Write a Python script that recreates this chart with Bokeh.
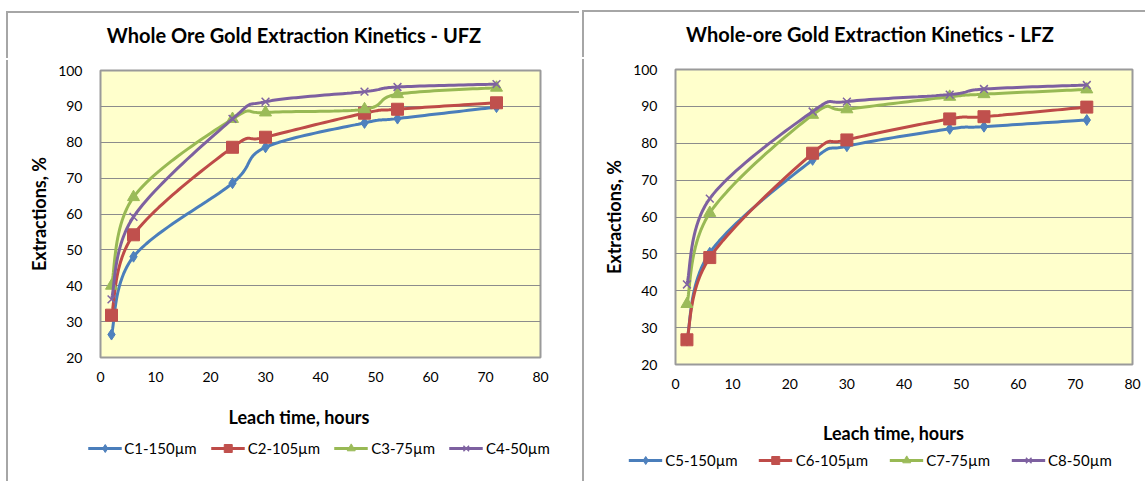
from bokeh.plotting import figure
from bokeh.models import Legend, LegendItem, Range1d, FixedTicker, Spacer, Label
from bokeh.layouts import row, column
from bokeh.embed import file_html
from bokeh.resources import INLINE

# ---------------- data ----------------
hours = [2, 6, 24, 30, 48, 54, 72]

ufz_names = ["C1-150µm", "C2-105µm", "C3-75µm", "C4-50µm"]
c1 = [26.4, 48.1, 68.6, 78.6, 85.4, 86.6, 89.8]
c2 = [31.8, 54.2, 78.6, 81.4, 88.1, 89.2, 91.0]
c3 = [40.0, 64.7, 86.5, 88.3, 89.2, 93.4, 95.2]
c4 = [36.2, 59.2, 86.5, 91.3, 94.1, 95.4, 96.2]

lfz_names = ["C5-150µm", "C6-105µm", "C7-75µm", "C8-50µm"]
c5 = [26.5, 50.3, 75.5, 79.2, 83.9, 84.5, 86.3]
c6 = [26.7, 49.0, 77.3, 80.9, 86.6, 87.2, 89.8]
c7 = [36.4, 61.1, 87.7, 89.2, 92.6, 93.3, 94.6]
c8 = [41.7, 65.0, 88.6, 91.3, 93.2, 94.7, 95.8]

x_ticks = [0, 10, 20, 30, 40, 50, 60, 70, 80]
y_ticks = [20, 30, 40, 50, 60, 70, 80, 90, 100]

titles = ["Whole Ore Gold Extraction Kinetics - UFZ",
          "Whole-ore Gold Extraction Kinetics - LFZ"]
x_title = "Leach time, hours"
y_title = "Extractions, %"

line_colors = ["#4A7EBB", "#BE4B48", "#98B954", "#7D60A0"]
fill_colors = ["#4F81BD", "#C0504D", "#9BBB59", "#8064A2"]
markers = ["diamond", "square", "triangle", "x"]
msizes = [11, 12, 12, 11]

FONT = "Lato"
SHADOW = "#A6A6A6"


def smooth(xs, ys, n=24):
    """Catmull-Rom style Bezier smoothing (like spreadsheet 'smoothed line')."""
    pts = list(zip(xs, ys))
    ox, oy = [], []
    for i in range(len(pts) - 1):
        p0 = pts[i - 1] if i > 0 else pts[i]
        p1 = pts[i]
        p2 = pts[i + 1]
        p3 = pts[i + 2] if i + 2 < len(pts) else pts[i + 1]
        c1x = p1[0] + (p2[0] - p0[0]) / 6.0
        c1y = p1[1] + (p2[1] - p0[1]) / 6.0
        c2x = p2[0] - (p3[0] - p1[0]) / 6.0
        c2y = p2[1] - (p3[1] - p1[1]) / 6.0
        for k in range(n + (1 if i == len(pts) - 2 else 0)):
            t = k / n
            a = (1 - t) ** 3
            b = 3 * (1 - t) ** 2 * t
            c = 3 * (1 - t) * t ** 2
            d = t ** 3
            ox.append(a * p1[0] + b * c1x + c * c2x + d * p2[0])
            oy.append(a * p1[1] + b * c1y + c * c2y + d * p2[1])
    return ox, oy


def add_series(p, i, xs, ys):
    sx, sy = smooth(xs, ys)
    ln = p.line(sx, sy, line_color=line_colors[i], line_width=3)
    if markers[i] == "x":
        sc = p.scatter(xs, ys, marker="x", size=msizes[i],
                       line_color=fill_colors[i], line_width=1.5)
    else:
        sc = p.scatter(xs, ys, marker=markers[i], size=msizes[i],
                       fill_color=fill_colors[i], line_color=fill_colors[i])
    return ln, sc


def blank(width, height, series):
    # the series are drawn in an empty view (nothing of them is visible)
    q = figure(width=width, height=height, x_range=Range1d(-1, 0), y_range=Range1d(-1, 0),
               output_backend="svg", toolbar_location=None, min_border=0,
               x_axis_location=None, y_axis_location=None)
    q.outline_line_color = None
    q.background_fill_color = "white"
    q.border_fill_color = "white"
    q.xgrid.visible = False
    q.ygrid.visible = False
    rs = [add_series(q, i, hours, ys) for i, ys in enumerate(series)]
    return q, rs


def header(text, series, width, height, tx, ty):
    q, _ = blank(width, height, series)
    q.add_layout(Label(x=tx, y=ty, x_units="screen", y_units="screen", text=text,
                       text_align="center", text_baseline="middle",
                       text_font=FONT, text_font_style="bold",
                       text_font_size="20px", text_color="black"))
    q.styles = {"box-shadow": f"-2px -2px 0 0 {SHADOW}"}
    return q


def make(series, width, height, bl, br, bt, bb, ylab_standoff):
    p = figure(width=width, height=height,
               x_range=Range1d(0, 80), y_range=Range1d(20, 100),
               output_backend="svg", toolbar_location=None,
               min_border_left=bl, min_border_top=bt,
               min_border_right=br, min_border_bottom=bb)
    p.background_fill_color = "#FFFFCC"
    p.border_fill_color = "white"
    p.outline_line_color = "#9A9A9A"
    p.outline_line_width = 2

    for ax in (p.xaxis[0], p.yaxis[0]):
        ax.axis_line_color = None
        ax.major_tick_line_color = None
        ax.minor_tick_line_color = None
        ax.major_tick_out = 0
        ax.major_tick_in = 0
        ax.minor_tick_out = 0
        ax.minor_tick_in = 0
        ax.major_label_text_font = FONT
        ax.major_label_text_font_size = "14px"
        ax.major_label_text_color = "black"
        ax.axis_label_text_font = FONT
        ax.axis_label_text_font_style = "bold"
        ax.axis_label_text_font_size = "18px"
        ax.axis_label_text_color = "black"

    p.xaxis.ticker = FixedTicker(ticks=x_ticks)
    p.yaxis.ticker = FixedTicker(ticks=y_ticks)
    p.yaxis.axis_label = y_title
    p.xaxis.major_label_standoff = 14
    p.yaxis.major_label_standoff = 18
    p.yaxis.axis_label_standoff = ylab_standoff

    p.xgrid.grid_line_color = None
    p.ygrid.grid_line_color = "#8C8C8C"
    p.ygrid.grid_line_width = 1

    for i, ys in enumerate(series):
        add_series(p, i, hours, ys)
    p.styles = {"box-shadow": f"-2px 0 0 0 {SHADOW}"}
    return p


def footer(names, series, width, height, tx, ty, leg_margin, spacing):
    q, rs = blank(width, height, series)
    q.add_layout(Label(x=tx, y=ty, x_units="screen", y_units="screen", text=x_title,
                       text_align="center", text_baseline="middle",
                       text_font=FONT, text_font_style="bold",
                       text_font_size="18px", text_color="black"))
    items = [LegendItem(label=name, renderers=list(rs[i])) for i, name in enumerate(names)]
    leg = Legend(items=items, orientation="horizontal", location="bottom_center")
    leg.label_text_font = FONT
    leg.label_text_font_size = "15px"
    leg.label_text_color = "black"
    leg.glyph_width = 34
    leg.glyph_height = 20
    leg.label_standoff = 3
    leg.spacing = spacing
    leg.padding = 0
    leg.margin = leg_margin
    leg.border_line_color = None
    leg.background_fill_alpha = 0
    q.add_layout(leg, "center")
    return q


def edge(w, h):
    s = Spacer(width=w, height=h)
    s.styles = {"box-shadow": f"-2px 0 0 0 {SHADOW}"}
    return s


ufz = [c1, c2, c3, c4]
lfz = [c5, c6, c7, c8]

# header frames are aligned with the chart frames below them by the column layout
h1 = header(titles[0], ufz, 573, 47, 193.5, 26)
p1 = make(ufz, 573, 332, 92, 41, 10, 35, 5)
f1 = footer(ufz_names, ufz, 525, 89, 242.5, 65, 23, 14)

h2 = header(titles[1], lfz, 563, 47, 194.5, 26)
p2 = make(lfz, 563, 340, 91, 15, 10, 35, 5)
f2 = footer(lfz_names, lfz, 554, 82, 300, 49, 11, 21)

left_col = column(Spacer(width=573, height=13), h1, p1, row(edge(48, 89), f1))
right_col = column(Spacer(width=563, height=12), h2, p2, row(edge(9, 82), f2))

layout = row(Spacer(width=8, height=481), left_col,
             Spacer(width=3, height=481), right_col)

open("out.html", "w").write(file_html(layout, INLINE))
